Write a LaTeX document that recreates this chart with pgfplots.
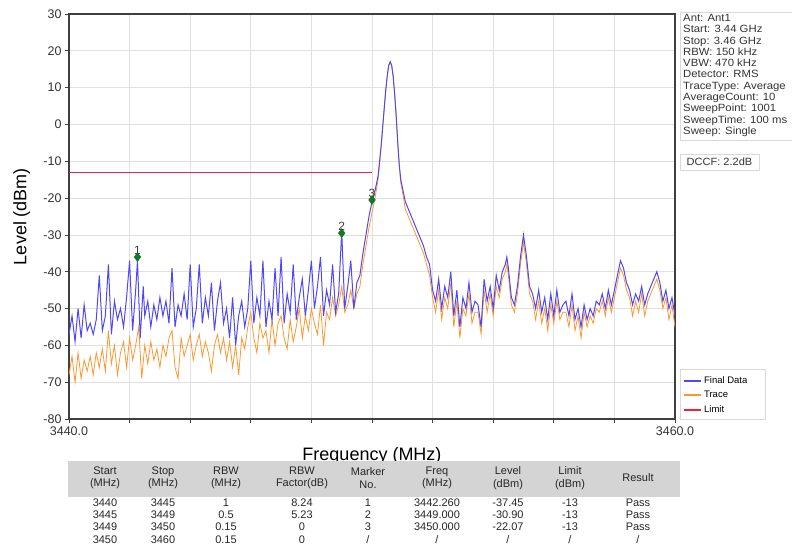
\documentclass[border=0pt]{standalone}
\usepackage{pgfplots}
\pgfplotsset{compat=1.18}
\usepackage{fontspec}
\setmainfont{Liberation Sans}
\definecolor{fdblue}{RGB}{80,72,245}
\definecolor{trorange}{RGB}{255,150,45}
\definecolor{limred}{RGB}{245,30,60}
\definecolor{mkgreen}{RGB}{20,120,40}
\definecolor{hdrgray}{RGB}{212,212,212}
\begin{document}
\begin{tikzpicture}[x=1pt,y=1pt]
\useasboundingbox (0,0) rectangle (792,554);
\begin{axis}[
    at={(69pt,135pt)}, anchor=south west,
    scale only axis, width=606pt, height=405pt,
    xmin=3440, xmax=3460, ymin=-80, ymax=30,
    xtick={3440,3442,...,3460},
    xticklabels={3440.0,,,,,,,,,,3460.0},
    ytick={-80,-70,...,30},
    tick align=outside, tick pos=left,
    major tick length=4pt,
    tick style={black!75, line width=0.8pt},
    /pgf/number format/assume math mode=true,
    ticklabel style={font=\fontsize{12.5}{14}\selectfont, text=black!80},
    grid=major, grid style={black!12, line width=0.7pt},
    axis line style={black!75, line width=1.2pt},
    xlabel={Frequency (MHz)}, ylabel={Level (dBm)},
    label style={font=\fontsize{18}{20}\selectfont},
    xlabel style={at={(axis description cs:0.5,-0.091)}, anchor=center},
    ylabel style={at={(axis description cs:-0.078,0.5)}, anchor=center},
    legend style={at={(1.008,0)}, anchor=south west, draw=none, fill=none,
        font=\fontsize{9.5}{11}\selectfont, row sep=2pt, inner sep=3pt,
        cells={anchor=west}},
    every legend image post/.style={line width=2pt},
]
% Trace (orange), drawn first so the blue trace lies on top
\addplot[trorange, line width=0.8pt, forget plot] coordinates {
(3440.0,-68)(3440.1,-63)(3440.2,-70)(3440.3,-62)(3440.4,-69)(3440.5,-64)(3440.6,-67)(3440.7,-63)(3440.8,-68)(3440.9,-62)
(3441.0,-66)(3441.1,-61)(3441.2,-67)(3441.3,-56)(3441.4,-65)(3441.5,-60)(3441.6,-68)(3441.7,-62)(3441.8,-59)(3441.9,-66)
(3442.0,-58)(3442.1,-64)(3442.2,-60)(3442.3,-55)(3442.4,-69)(3442.5,-60)(3442.6,-65)(3442.7,-59)(3442.8,-64)(3442.9,-61)
(3443.0,-66)(3443.1,-60)(3443.2,-63)(3443.3,-58)(3443.4,-56)(3443.5,-66)(3443.6,-69)(3443.7,-58)(3443.8,-63)(3443.9,-60)
(3444.0,-57)(3444.1,-64)(3444.2,-60)(3444.3,-57)(3444.4,-63)(3444.5,-59)(3444.6,-62)(3444.7,-67)(3444.8,-60)(3444.9,-57)
(3445.0,-62)(3445.1,-58)(3445.2,-64)(3445.3,-59)(3445.4,-66)(3445.5,-60)(3445.6,-68)(3445.7,-58)(3445.8,-61)(3445.9,-55)
(3446.0,-51)(3446.1,-58)(3446.2,-62)(3446.3,-54)(3446.4,-58)(3446.5,-56)(3446.6,-62)(3446.7,-53)(3446.8,-60)(3446.9,-54)
(3447.0,-52)(3447.1,-58)(3447.2,-61)(3447.3,-53)(3447.4,-59)(3447.5,-55)(3447.6,-50)(3447.7,-58)(3447.8,-52)(3447.9,-56)
(3448.0,-50)(3448.1,-54)(3448.2,-57)(3448.3,-49)(3448.4,-60)(3448.5,-51)(3448.6,-53)(3448.7,-47)(3448.8,-52)(3448.9,-49)
(3449.0,-44)(3449.1,-51)(3449.2,-49)(3449.3,-45)(3449.4,-50)(3449.5,-46)(3449.6,-44)(3449.7,-38)(3449.8,-33)(3449.9,-28)
(3450.0,-24)(3450.1,-20)(3450.2,-15)(3450.25,-11)(3450.3,-6)(3450.35,-1)(3450.4,4)(3450.45,9)(3450.5,13)(3450.55,16)
(3450.6,17)(3450.65,16)(3450.7,13)(3450.75,8)(3450.8,2)(3450.85,-5)(3450.9,-11)(3450.95,-16)(3451.0,-18)(3451.1,-23)
(3451.2,-25)(3451.3,-27)(3451.4,-29)(3451.5,-31)(3451.6,-33)(3451.7,-35)(3451.8,-38)(3451.9,-41)
(3452.0,-47)(3452.1,-51)(3452.2,-45)(3452.3,-53)(3452.4,-47)(3452.5,-50)(3452.6,-43)(3452.7,-55)(3452.8,-48)(3452.9,-58)
(3453.0,-50)(3453.1,-52)(3453.2,-46)(3453.3,-54)(3453.4,-51)(3453.5,-51)(3453.6,-57)(3453.7,-45)(3453.8,-51)(3453.9,-46)
(3454.0,-52)(3454.1,-44)(3454.2,-47)(3454.3,-42)(3454.4,-40)(3454.45,-38)(3454.5,-41)(3454.6,-49)(3454.7,-51)(3454.8,-46)
(3454.9,-38)(3455.0,-32)(3455.1,-38)(3455.2,-46)(3455.3,-48)(3455.4,-53)(3455.5,-48)(3455.6,-54)(3455.7,-50)(3455.8,-56)
(3455.9,-49)(3456.0,-54)(3456.1,-48)(3456.2,-53)(3456.3,-51)(3456.4,-51)(3456.5,-55)(3456.6,-49)(3456.7,-56)(3456.8,-52)
(3456.9,-58)(3457.0,-51)(3457.1,-55)(3457.2,-52)(3457.3,-54)(3457.4,-50)(3457.5,-51)(3457.6,-48)(3457.7,-52)(3457.8,-47)
(3457.9,-51)(3458.0,-47)(3458.1,-43)(3458.2,-39)(3458.3,-41)(3458.4,-45)(3458.5,-47)(3458.6,-52)(3458.7,-48)(3458.8,-51)
(3458.9,-46)(3459.0,-52)(3459.1,-48)(3459.2,-46)(3459.3,-44)(3459.4,-42)(3459.5,-45)(3459.6,-50)(3459.7,-47)(3459.8,-53)
(3459.9,-49)(3460.0,-55)
};
% Final Data (blue)
\addplot[fdblue, line width=1pt] coordinates {
(3440.0,-57)(3440.1,-52)(3440.2,-59)(3440.3,-50)(3440.4,-58)(3440.5,-49)(3440.6,-56)(3440.7,-54)(3440.8,-57)(3440.9,-53)
(3441.0,-41)(3441.1,-56)(3441.2,-52)(3441.3,-38)(3441.4,-57)(3441.5,-48)(3441.6,-53)(3441.7,-50)(3441.8,-55)(3441.9,-47)
(3442.0,-37)(3442.1,-56)(3442.2,-45)(3442.26,-37)(3442.35,-58)(3442.45,-44)(3442.5,-52)(3442.6,-48)(3442.7,-55)(3442.8,-49)
(3442.9,-53)(3443.0,-47)(3443.1,-52)(3443.2,-48)(3443.3,-54)(3443.4,-39)(3443.5,-55)(3443.6,-49)(3443.7,-52)(3443.8,-46)
(3443.9,-53)(3444.0,-38)(3444.1,-55)(3444.2,-50)(3444.3,-38)(3444.4,-54)(3444.5,-47)(3444.6,-52)(3444.7,-43)(3444.8,-56)
(3444.9,-48)(3445.0,-43)(3445.1,-54)(3445.2,-50)(3445.3,-58)(3445.4,-47)(3445.5,-60)(3445.6,-52)(3445.7,-48)(3445.8,-55)
(3445.9,-50)(3446.0,-37)(3446.1,-54)(3446.2,-47)(3446.3,-52)(3446.4,-37)(3446.5,-55)(3446.6,-48)(3446.7,-53)(3446.8,-39)
(3446.9,-52)(3447.0,-36)(3447.1,-54)(3447.2,-46)(3447.3,-51)(3447.4,-38)(3447.5,-53)(3447.6,-47)(3447.7,-42)(3447.8,-52)
(3447.9,-45)(3448.0,-37)(3448.1,-50)(3448.2,-44)(3448.3,-36)(3448.4,-52)(3448.5,-45)(3448.6,-49)(3448.7,-38)(3448.8,-51)
(3448.9,-46)(3449.0,-29)(3449.1,-50)(3449.2,-44)(3449.3,-37)(3449.4,-50)(3449.5,-43)(3449.6,-41)(3449.7,-35)(3449.8,-30)
(3449.9,-25)(3450.0,-21)(3450.1,-18)(3450.2,-14)(3450.25,-10)(3450.3,-6)(3450.35,-1)(3450.4,4)(3450.45,9)(3450.5,13)
(3450.55,16)(3450.6,17)(3450.65,16)(3450.7,13)(3450.75,8)(3450.8,2)(3450.85,-5)(3450.9,-11)(3450.95,-15)(3451.0,-17)
(3451.1,-21)(3451.2,-23)(3451.3,-25)(3451.4,-27)(3451.5,-29)(3451.6,-31)(3451.7,-33)(3451.8,-36)(3451.9,-38)
(3452.0,-45)(3452.1,-48)(3452.2,-42)(3452.3,-50)(3452.4,-44)(3452.5,-47)(3452.6,-40)(3452.7,-52)(3452.8,-45)(3452.9,-55)
(3453.0,-47)(3453.1,-50)(3453.2,-43)(3453.3,-51)(3453.4,-48)(3453.5,-49)(3453.6,-55)(3453.7,-42)(3453.8,-48)(3453.9,-44)
(3454.0,-50)(3454.1,-41)(3454.2,-45)(3454.3,-40)(3454.4,-38)(3454.45,-36)(3454.5,-39)(3454.6,-47)(3454.7,-49)(3454.8,-44)
(3454.9,-36)(3455.0,-30)(3455.1,-36)(3455.2,-44)(3455.3,-46)(3455.4,-50)(3455.5,-45)(3455.6,-51)(3455.7,-47)(3455.8,-53)
(3455.9,-46)(3456.0,-52)(3456.1,-45)(3456.2,-51)(3456.3,-49)(3456.4,-48)(3456.5,-52)(3456.6,-46)(3456.7,-53)(3456.8,-50)
(3456.9,-55)(3457.0,-49)(3457.1,-53)(3457.2,-50)(3457.3,-52)(3457.4,-48)(3457.5,-49)(3457.6,-46)(3457.7,-50)(3457.8,-45)
(3457.9,-49)(3458.0,-45)(3458.1,-41)(3458.2,-37)(3458.3,-39)(3458.4,-43)(3458.5,-45)(3458.6,-49)(3458.7,-46)(3458.8,-48)
(3458.9,-44)(3459.0,-49)(3459.1,-46)(3459.2,-44)(3459.3,-42)(3459.4,-40)(3459.5,-43)(3459.6,-48)(3459.7,-45)(3459.8,-50)
(3459.9,-47)(3460.0,-52)
};
\addlegendentry{Final Data}
\addlegendimage{trorange, line width=1.2pt}
\addlegendentry{Trace}
% Limit
\addplot[limred, line width=1pt] coordinates {(3440,-13)(3450,-13)};
\addlegendentry{Limit}
% Markers
\addplot[only marks, mark=diamond*, mark size=4.5pt, mkgreen, forget plot,
    point meta=explicit symbolic, nodes near coords,
    nodes near coords style={font=\fontsize{12}{13}\selectfont, text=black!75, anchor=south, yshift=-1pt}]
    coordinates {(3442.26,-36) [1] (3449.0,-29.5) [2] (3450.0,-20.5) [3]};
\end{axis}
% legend frame
\draw[black!15, line width=0.8pt] (680,135) rectangle (765,185);
% info panel
\draw[black!15, line width=0.8pt] (680,542) rectangle (800,414);
\node[anchor=north west, inner sep=0pt, align=left, text=black!80, xscale=1.08,
    font=\fontsize{10.5}{11.3}\selectfont] at (683,540) {Ant: Ant1\\Start: 3.44 GHz\\Stop: 3.46 GHz\\RBW: 150 kHz\\VBW: 470 kHz\\Detector: RMS\\TraceType: Average\\AverageCount: 10\\SweepPoint: 1001\\SweepTime: 100 ms\\Sweep: Single};
\draw[black!15, line width=0.8pt] (680,400) rectangle (759,384);
\node[anchor=center, inner sep=0pt, text=black!80, xscale=1.05, font=\fontsize{10.5}{11.3}\selectfont] at (719.5,392) {DCCF: 2.2dB};
% table
\fill[hdrgray] (68,93) rectangle (680,57);
\begin{scope}[every node/.style={anchor=center, inner sep=0pt, align=center, text=black!85,
    font=\fontsize{11}{12.5}\selectfont}]
\node at (105,76) {Start\\(MHz)};
\node at (163,76) {Stop\\(MHz)};
\node at (226,76) {RBW\\(MHz)};
\node at (302,76) {RBW\\Factor(dB)};
\node at (368,76) {Marker\\No.};
\node at (437,76) {Freq\\(MHz)};
\node at (508,76) {Level\\(dBm)};
\node at (570,76) {Limit\\(dBm)};
\node at (638,76) {Result};
\foreach \y/\a/\b/\c/\d/\e/\f/\g/\h/\i in {
  51/3440/3445/1/8.24/1/3442.260/-37.45/-13/Pass,
  39/3445/3449/0.5/5.23/2/3449.000/-30.90/-13/Pass,
  27/3449/3450/0.15/0/3/3450.000/-22.07/-13/Pass,
  14/3450/3460/0.15/0/\slash/\slash/\slash/\slash/\slash} {
  \node at (105,\y) {\a};
  \node at (163,\y) {\b};
  \node at (226,\y) {\c};
  \node at (302,\y) {\d};
  \node at (368,\y) {\e};
  \node at (437,\y) {\f};
  \node at (508,\y) {\g};
  \node at (570,\y) {\h};
  \node at (638,\y) {\i};
}
\end{scope}
\end{tikzpicture}
\end{document}
